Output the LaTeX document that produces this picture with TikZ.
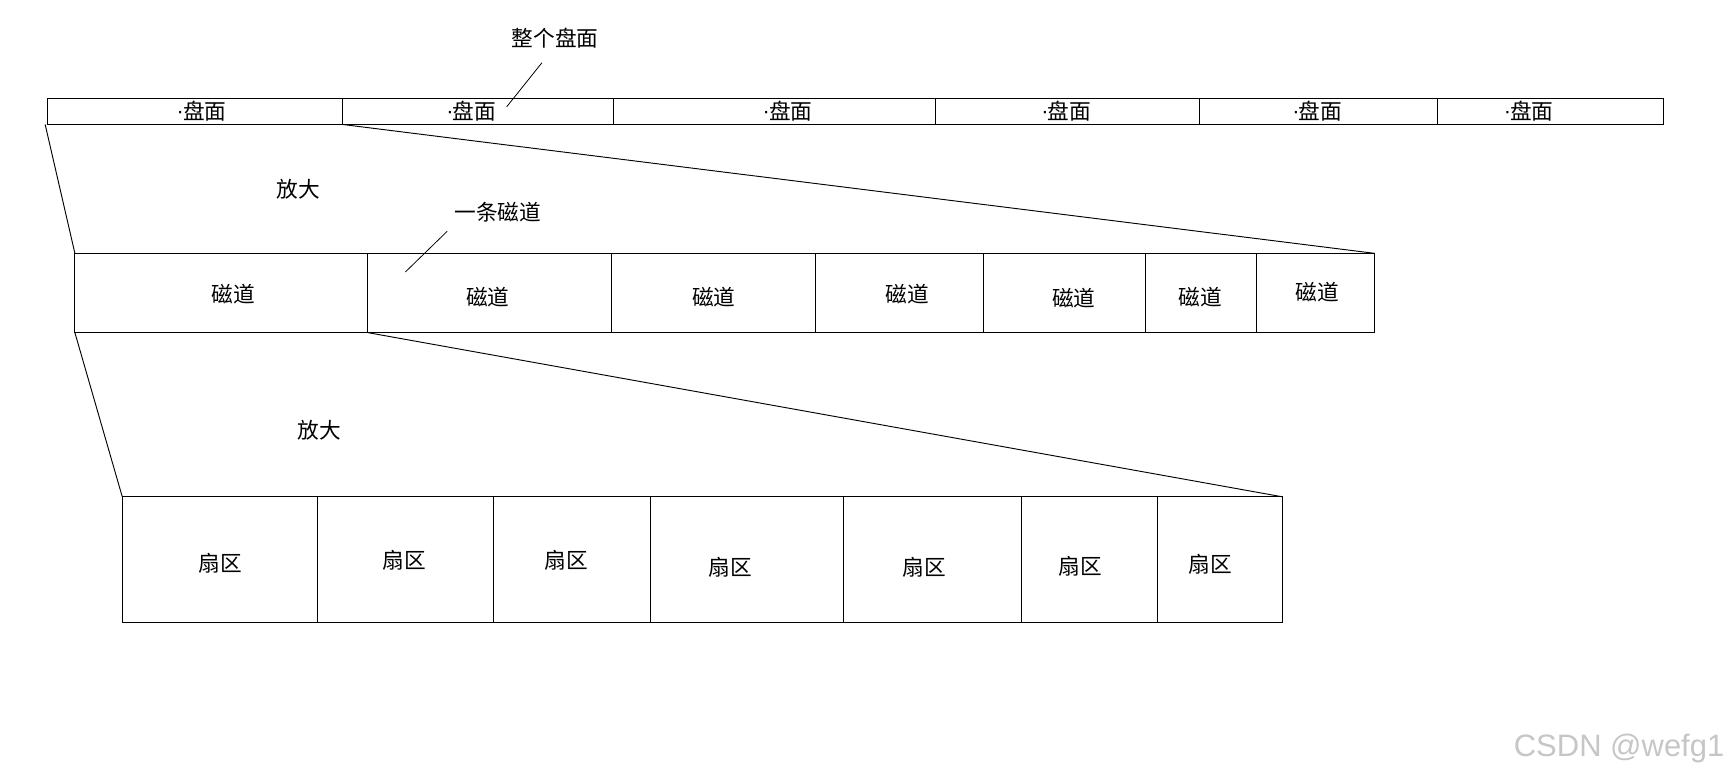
\documentclass[tikz,border=0pt]{standalone}
\usepackage{fontspec}
\newfontfamily\cjk{Noto Sans CJK SC}
\setsansfont{Liberation Sans}
\begin{document}
\begin{tikzpicture}[
        x=0.025cm, y=-0.025cm,
        line width=0.6pt,
        % 文字样式
        lbl/.style={font=\cjk\fontsize{14}{16}\selectfont, inner sep=1pt},
        mark line/.style={line width=0.5pt}
    ]
    \useasboundingbox (0,0) rectangle (1568,706);
    \def\pan{{\sffamily\raisebox{1pt}{·}}\kern-0.5pt 盘面}

    % --- 整个盘面 ---
    \coordinate (P0) at (43,89);
    \coordinate (P1) at (1510,113);
    \draw (P0) rectangle (P1);
    \foreach \x in {311,557,849,1089,1305}
        \draw (\x,89) -- (\x,113);
    \foreach \x [count=\i] in {183,428,715,968,1196,1388}
        \node[lbl] (P\i) at (\x,101) {\pan};
    \coordinate (PA) at (41,113);
    \coordinate (PB) at (311,113);

    \node[lbl] (whole) at (504,35) {整个盘面};
    \coordinate (w1) at (492,57);
    \coordinate (w2) at (460,97);
    \draw[mark line] (w1) -- (w2);

    % --- 磁道 ---
    \coordinate (T0) at (68,230);
    \coordinate (T1) at (1248,302);
    \draw (T0) rectangle (T1);
    \foreach \x in {334,555,740,893,1040,1141}
        \draw (\x,230) -- (\x,302);
    \foreach \x/\y [count=\i] in {212/267,443/270,648/270,824/267,975/271,1090/270,1196/265}
        \node[lbl] (T\i) at (\x,\y) {磁道};
    \coordinate (TA) at (68,302);
    \coordinate (TB) at (334,302);
    \coordinate (TC) at (1248,230);

    \draw (PA) -- (T0);
    \draw (PB) -- (TC);
    \node[lbl] (zoom1) at (271,172) {放大};

    \node[lbl] (onetrack) at (452,193) {一条磁道};
    \coordinate (o1) at (406,210);
    \coordinate (o2) at (368,247);
    \draw[mark line] (o1) -- (o2);

    % --- 扇区 ---
    \coordinate (S0) at (111,451);
    \coordinate (S1) at (1164,565);
    \draw (S0) rectangle (S1);
    \foreach \x in {288,448,591,766,927,1051}
        \draw (\x,451) -- (\x,565);
    \foreach \x/\y [count=\i] in {200/511,367/509,514/509,663/515,839/515,981/514,1099/512}
        \node[lbl] (S\i) at (\x,\y) {扇区};
    \coordinate (SC) at (1164,451);

    \draw (TA) -- (S0);
    \draw (TB) -- (SC);
    \node[lbl] (zoom2) at (290,391) {放大};

    % 水印
    \node[font=\sffamily\fontsize{20}{24}\selectfont, text=gray!45, anchor=east, inner sep=0pt]
        (mark) at (1566,680) {CSDN @wefg1};

\end{tikzpicture}
\end{document}
